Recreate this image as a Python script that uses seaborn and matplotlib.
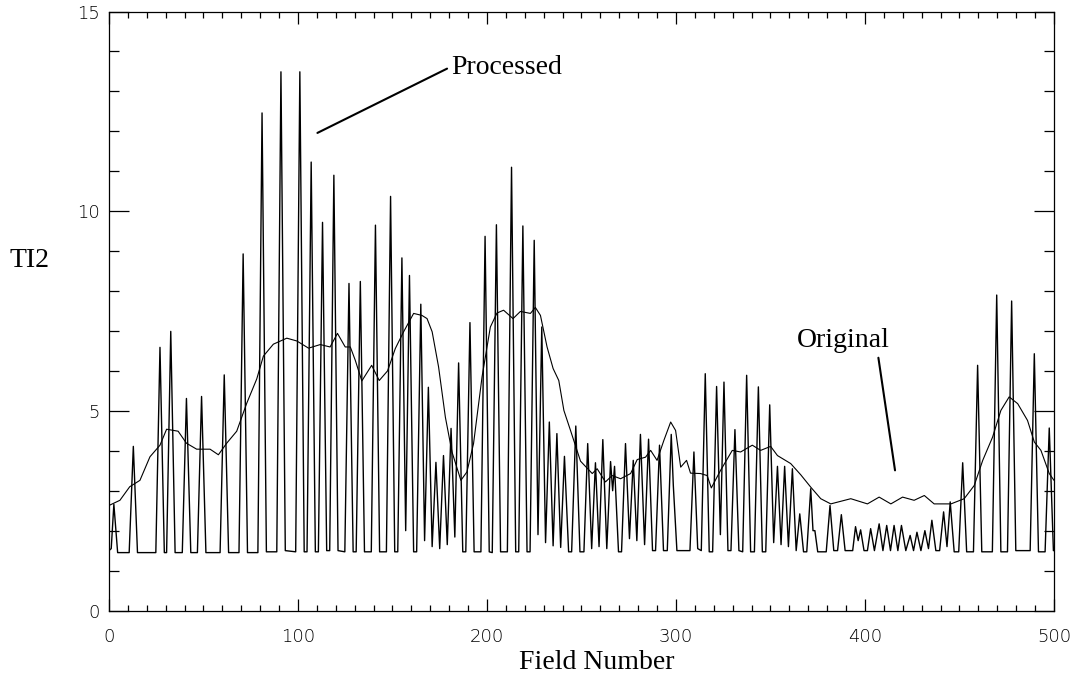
"""TI2 versus field number: processed vs original signal."""

import matplotlib
matplotlib.use("Agg")
import matplotlib.pyplot as plt
import seaborn as sns
from matplotlib.ticker import MultipleLocator

sns.set_theme(style="ticks")
plt.rcParams["font.family"] = ["DejaVu Sans"]

# --- data ------------------------------------------------------------------
# processed signal: polyline vertices (field number, TI2)
proc_x = [
    0, 1.2, 2.6, 4.6, 10.7, 12.9, 15.1, 24.8, 27.0, 29.3, 30.5, 32.7, 35.0,
    38.8, 41.0, 43.3, 46.8, 49.0, 51.3, 58.8, 61.0, 63.3, 68.8, 71.0, 73.3,
    78.8, 81.0, 83.3, 88.8, 91.0, 93.3, 98.8, 101.0, 103.3, 104.8, 107.0,
    109.2, 110.8, 113.0, 115.2, 116.8, 119.0, 121.2, 124.8, 127.0, 129.2,
    130.8, 133.0, 135.2, 138.8, 141.0, 143.2, 146.8, 149.0, 151.2, 152.8,
    155.0, 157.0, 159.0, 161.2, 162.8, 165.0, 167.0, 169.0, 171.0, 173.0,
    175.0, 177.0, 179.0, 181.0, 183.0, 185.0, 187.2, 188.8, 191.0, 193.2,
    196.8, 199.0, 201.2, 202.8, 205.0, 207.2, 210.8, 213.0, 215.2, 216.8,
    219.0, 221.2, 222.8, 225.0, 227.0, 229.0, 231.0, 233.0, 235.0, 237.0,
    239.0, 241.0, 243.2, 244.8, 247.0, 249.2, 251.3, 253.3, 255.4, 257.4,
    259.3, 261.3, 263.4, 265.4, 266.5, 267.5, 269.6, 271.2, 273.3, 275.4,
    277.4, 279.3, 281.2, 283.4, 285.5, 287.6, 289.2, 291.3, 293.4, 295.4,
    297.5, 298.6, 300.5, 307.4, 309.5, 311.5, 313.4, 315.5, 317.6, 319.4,
    321.5, 323.5, 325.4, 327.5, 329.1, 331.2, 333.3, 335.3, 337.4, 339.5,
    341.5, 343.6, 345.7, 347.5, 349.6, 351.7, 353.7, 355.6, 357.5, 359.5,
    361.6, 363.6, 365.5, 367.5, 369.2, 371.3, 372.5, 373.5, 375.0, 379.5,
    381.5, 383.5, 385.5, 387.5, 389.5, 393.5, 395.0, 396.4, 397.7, 399.5,
    401.3, 403.0, 405.0, 407.5, 409.5, 411.5, 413.5, 415.4, 417.4, 419.3,
    421.6, 423.9, 425.7, 427.5, 429.6, 431.7, 433.6, 435.4, 437.5, 439.5,
    441.6, 443.4, 445.1, 447.2, 449.6, 451.7, 453.8, 457.4, 459.6, 461.8,
    467.4, 469.7, 471.9, 475.4, 477.6, 479.8, 487.4, 489.6, 491.8, 495.3,
    497.5, 499.7, 500.0,
]
proc_y = [
    1.50, 1.55, 2.66, 1.45, 1.45, 4.11, 1.45, 1.45, 6.59, 1.45, 1.45, 6.99, 1.45,
    1.45, 5.31, 1.45, 1.45, 5.36, 1.45, 1.45, 5.90, 1.45, 1.45, 8.93, 1.45,
    1.45, 12.46, 1.47, 1.47, 13.49, 1.50, 1.47, 13.49, 1.47, 1.47, 11.23,
    1.47, 1.47, 9.72, 1.50, 1.50, 10.90, 1.50, 1.47, 8.19, 1.47,
    1.47, 8.24, 1.47, 1.47, 9.65, 1.47, 1.47, 10.37, 1.47, 1.47,
    8.83, 2.00, 8.39, 1.47, 1.47, 7.67, 1.75, 5.59, 1.60, 3.71,
    1.55, 3.88, 1.65, 4.56, 1.84, 6.20, 1.47, 1.47, 7.21, 1.47,
    1.47, 9.37, 1.47, 1.45, 9.66, 1.47, 1.47, 11.10, 1.47, 1.47,
    9.63, 1.47, 1.47, 9.27, 1.90, 7.10, 1.70, 4.72, 1.62, 4.43,
    1.58, 3.86, 1.47, 1.47, 4.62, 1.47, 1.47, 4.18, 1.55, 3.70,
    1.60, 4.28, 1.55, 3.73, 3.00, 3.61, 1.47, 1.47, 4.18, 1.80,
    3.76, 1.75, 4.41, 1.65, 4.29, 1.50, 1.50, 4.14, 1.50, 1.50,
    4.41, 3.13, 1.50, 1.50, 3.97, 1.55, 1.50, 5.93, 1.47, 1.47,
    5.61, 1.90, 5.72, 1.50, 1.50, 4.53, 1.50, 1.47, 5.89, 1.47,
    1.47, 5.60, 1.47, 1.47, 5.15, 1.70, 3.61, 1.65, 3.61, 1.60,
    3.55, 1.50, 2.42, 1.47, 1.47, 3.05, 2.00, 2.00, 1.47, 1.47,
    2.63, 1.50, 1.50, 2.40, 1.50, 1.50, 2.10, 1.75, 2.02, 1.50,
    1.50, 2.05, 1.50, 2.17, 1.50, 2.13, 1.50, 2.13, 1.50, 2.13,
    1.50, 1.88, 1.50, 1.96, 1.50, 2.00, 1.55, 2.26, 1.50, 1.50,
    2.47, 1.60, 2.72, 1.47, 1.47, 3.70, 1.47, 1.47, 6.14, 1.47,
    1.47, 7.90, 1.47, 1.47, 7.75, 1.50, 1.50, 6.43, 1.47, 1.47,
    4.57, 1.50, 1.50,
]

# original signal: sampled along the smooth curve
orig_x = [
    0, 5.8, 11.0, 16.4, 21.7, 27.0, 30.5, 36.6, 41.0, 46.4, 53.5, 57.9, 62.3,
    67.6, 72.9, 78.2, 81.7, 87.0, 94.1, 99.4, 105.6, 111.8, 117.0, 120.9,
    125.0, 127.7, 130.3, 133.8, 139.0, 143.0, 147.4, 151.5, 155.9, 161.2,
    165.6, 168.3, 171.0, 174.4, 178.0, 181.5, 186.2, 189.4, 192.9, 197.4,
    201.8, 205.3, 208.8, 213.8, 217.7, 223.0, 225.6, 228.3, 231.8, 235.0,
    238.0, 240.7, 244.2, 249.5, 255.7, 258.3, 262.7, 266.2, 270.7, 276.0,
    279.5, 283.9, 286.6, 290.0, 293.6, 297.2, 299.8, 302.5, 305.6, 307.7,
    313.0, 316.5, 318.7, 323.6, 329.8, 334.2, 340.4, 344.8, 350.1, 353.7,
    360.7, 366.0, 371.3, 376.6, 381.9, 392.5, 401.3, 407.5, 413.7, 419.9,
    426.0, 431.4, 436.6, 445.5, 452.5, 457.8, 462.3, 467.5, 471.9, 476.3,
    480.8, 486.0, 489.6, 493.1, 497.5, 500.0,
]
orig_y = [
    2.63, 2.76, 3.10, 3.26, 3.85, 4.14, 4.54, 4.49, 4.19, 4.04, 4.04, 3.90, 4.19,
    4.49, 5.19, 5.80, 6.37, 6.67, 6.82, 6.75, 6.57, 6.66, 6.60, 6.94,
    6.60, 6.60, 6.27, 5.75, 6.14, 5.76, 6.00, 6.56, 6.98, 7.44,
    7.39, 7.31, 6.98, 6.10, 4.84, 3.97, 3.26, 3.47, 4.18, 5.85,
    7.10, 7.45, 7.52, 7.31, 7.49, 7.44, 7.59, 7.39, 6.60, 6.06,
    5.76, 5.01, 4.51, 3.74, 3.43, 3.55, 3.22, 3.38, 3.30, 3.43,
    3.78, 3.84, 4.01, 3.76, 4.26, 4.72, 4.51, 3.59, 3.76, 3.44,
    3.43, 3.38, 3.07, 3.51, 4.01, 3.97, 4.14, 4.01, 4.11, 3.88,
    3.68, 3.40, 3.09, 2.80, 2.67, 2.80, 2.67, 2.84, 2.67, 2.84,
    2.76, 2.88, 2.67, 2.67, 2.80, 3.13, 3.76, 4.34, 5.01, 5.35,
    5.18, 4.76, 4.22, 4.01, 3.43, 3.26,
]

x_ticks = [0, 100, 200, 300, 400, 500]
y_ticks = [0, 5, 10, 15]

# annotation pointers: (label, text pos, line start, line end)
labels = ["Processed", "Original"]
label_pos = [(181.0, 13.43), (363.9, 6.61)]
pointer_from = [(110.3, 11.96), (407.1, 6.33)]
pointer_to = [(178.9, 13.57), (415.9, 3.51)]

serif = ["Liberation Serif", "DejaVu Serif"]

fig = plt.figure(figsize=(10.83, 6.90), dpi=100)
ax = fig.add_axes([0.1006, 0.1152, 0.8726, 0.8681])

sns.lineplot(x=orig_x, y=orig_y, ax=ax, color="black", linewidth=0.8,
             estimator=None, sort=False)
sns.lineplot(x=proc_x, y=proc_y, ax=ax, color="black", linewidth=1.0,
             estimator=None, sort=False)

for lab, (tx, ty), (x0, y0), (x1, y1) in zip(labels, label_pos, pointer_from, pointer_to):
    ax.plot([x0, x1], [y0, y1], color="black", linewidth=1.5)
    ax.text(tx, ty, lab, family=serif, fontsize=20, ha="left", va="baseline",
            color="black")

ax.set_xlim(0, 500)
ax.set_ylim(0, 15)
ax.set_xticks(x_ticks)
ax.set_yticks(y_ticks)
ax.xaxis.set_minor_locator(MultipleLocator(10))
ax.yaxis.set_minor_locator(MultipleLocator(1))
ax.tick_params(which="both", direction="in", top=True, right=True,
               color="black", width=0.9, labelcolor="black")
ax.tick_params(axis="x", which="major", length=8.5, pad=12.5, labelsize=13)
ax.tick_params(axis="x", which="minor", length=4.3)
ax.tick_params(axis="y", which="major", length=14.4, pad=6.5, labelsize=13)
ax.tick_params(axis="y", which="minor", length=7.2)
for t in ax.get_xticklabels() + ax.get_yticklabels():
    t.set_fontweight("light")

for s in ax.spines.values():
    s.set_visible(True)
    s.set_color("black")
    s.set_linewidth(0.9)
ax.set_xlabel("")
ax.set_ylabel("")

fig.text(9.3 / 1083, 1 - 266.7 / 690, "TI2", family=serif, fontsize=20,
         ha="left", va="baseline", color="black")
fig.text(597 / 1083, 1 - 669 / 690, "Field Number", family=serif, fontsize=20,
         ha="center", va="baseline", color="black")

fig.savefig("out.png", dpi=100, facecolor="white")
